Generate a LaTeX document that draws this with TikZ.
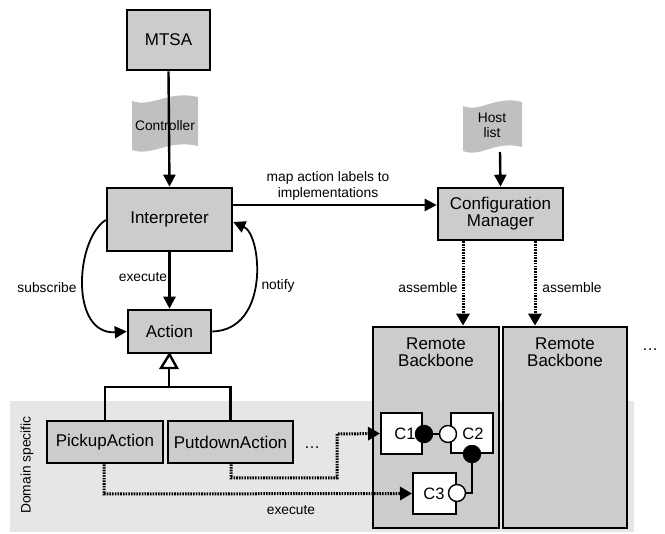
\documentclass[tikz,border=0pt]{standalone}
\usepackage{fontspec}
\setmainfont{Liberation Sans}
\usetikzlibrary{arrows.meta}
\definecolor{boxgray}{HTML}{CCCCCC}
\definecolor{docgray}{HTML}{C0C0C0}
\definecolor{bggray}{HTML}{E6E6E6}
\tikzset{
  blk/.style={draw=black, line width=2.6pt, fill=boxgray, inner sep=0pt, font=\fontsize{17}{19}\selectfont, align=center},
  comp/.style={draw=black, line width=2pt, fill=white, inner sep=0pt},
  lbl/.style={font=\fontsize{13.8}{16}\selectfont, align=center, inner sep=0pt},
  arr/.style={line width=2.4pt, -{Triangle[length=12pt,width=12pt]}},
  curvarr/.style={line width=1.8pt, -{Triangle[length=12pt,width=12pt]}},
  dotarr/.style={line width=3pt, dash pattern=on 1.6pt off 1.1pt, -{Triangle[length=12pt,width=13pt]}},
  inh/.style={line width=2.4pt},
  ball/.style={circle, draw=black, line width=1.4pt, fill=black, minimum size=17pt, inner sep=0pt},
  sock/.style={circle, draw=black, line width=1.4pt, fill=white, minimum size=17pt, inner sep=0pt},
  wire/.style={line width=1.4pt}
}
\begin{document}
\begin{tikzpicture}[x=1pt,y=-1pt]
\useasboundingbox (0,0) rectangle (665,534);
% domain specific background
\fill[bggray] (10,401) rectangle (634,532);
\node[lbl, rotate=90] (dom) at (27,465) {Domain specific};

% main boxes
\node[blk, minimum width=83pt, minimum height=60pt] (mtsa) at (168.5,40) {MTSA};
\node[blk, minimum width=125pt, minimum height=63pt] (interp) at (169.5,219.5) {Interpreter};
\node[blk, minimum width=83pt, minimum height=43pt] (action) at (169.5,331.5) {Action};
\node[blk, minimum width=125pt, minimum height=52pt] (cm) at (500.5,214) {Configuration\\[-2pt]Manager};
\node[blk, minimum width=116pt, minimum height=42pt] (pick) at (105,442) {PickupAction};
\node[blk, minimum width=125pt, minimum height=42pt] (put) at (230.5,442) {PutdownAction};
\node[blk, minimum width=126pt, minimum height=201pt] (rb1) at (436,427.5) {};
\node[blk, minimum width=124pt, minimum height=201pt] (rb2) at (565,427.5) {};
\node[font=\fontsize{17}{19}\selectfont, align=center] (rb1t) at (436,352) {Remote\\[-2pt]Backbone};
\node[font=\fontsize{17}{19}\selectfont, align=center] (rb2t) at (565,352) {Remote\\[-2pt]Backbone};
\node[font=\fontsize{16}{19}\selectfont] (dots1) at (650,350) {\dots};
\node[font=\fontsize{16}{19}\selectfont] (dots2) at (312,448) {\dots};

% documents
\fill[docgray] (132,101) .. controls (152,108) and (168,90) .. (198,97)
  -- (198,146) .. controls (168,139) and (152,157) .. (132,150) -- cycle;
\node[lbl] (ctrl) at (165,126) {Controller};
\fill[docgray] (463,106) .. controls (481,113) and (495,95) .. (522,102)
  -- (522,147) .. controls (495,140) and (481,158) .. (463,151) -- cycle;
\node[lbl, align=center] (host) at (492,125) {Host\\[-1pt]list};

% components
\node[comp, minimum width=41pt, minimum height=41pt] (c1) at (401.5,433.5) {};
\node[comp, minimum width=42pt, minimum height=40pt] (c2) at (472,433) {};
\node[comp, minimum width=43pt, minimum height=41pt] (c3) at (434.5,493.5) {};
\node[font=\fontsize{16.5}{19}\selectfont] (c1t) at (405,434) {C1};
\node[font=\fontsize{16.5}{19}\selectfont] (c2t) at (473,434) {C2};
\node[font=\fontsize{16.5}{19}\selectfont] (c3t) at (434,494) {C3};
\coordinate (bend) at (472,493);
\node[ball] (b1) at (424,434) {};
\node[sock] (s2) at (448,434) {};
\node[ball] (b2) at (472,454) {};
\node[sock] (s3) at (457,493) {};
\draw[wire] (b1) -- (s2);
\draw[wire] (b2) -- (bend) -- (s3);

% arrows
\coordinate (hostb) at (500,152);
\draw[arr] (mtsa.south) -- (interp.north);
\draw[arr] (interp.south) -- (action.north);
\draw[arr] (interp.east |- 0,205) -- (cm.west |- 0,205);
\draw[arr] (hostb) -- (cm.north);
\node[lbl] (maplbl) at (328,186) {map action labels to\\implementations};
\node[lbl] (exec1) at (143,277) {execute};
\node[lbl] (subs) at (47,288) {subscribe};
\node[lbl] (notif) at (278,286) {notify};
\draw[curvarr] (interp.west |- 0,220) .. controls (75,240) and (70,335) .. (action.west);
\draw[curvarr] (action.east) .. controls (270,330) and (262,235) .. (interp.east |- 0,222);

% inheritance
\coordinate (tbase) at (169,368);
\coordinate (hjoin) at (169,387);
\draw[inh, fill=white] (action.south) -- (161,368) -- (177,368) -- cycle;
\draw[inh] (tbase) -- (hjoin);
\draw[inh] (pick.north) |- (hjoin) -| (put.north);

% assemble
\draw[dotarr] (cm.south -| 463,0) -- (rb1.north -| 463,0);
\draw[dotarr] (cm.south -| 535,0) -- (rb2.north -| 535,0);
\node[lbl] (as1) at (428,288) {assemble};
\node[lbl] (as2) at (572,288) {assemble};

% execute dotted
\coordinate (p1) at (231,478);
\coordinate (p2) at (337,478);
\coordinate (p3) at (337,434);
\draw[dotarr] (put.south -| 231,0) -- (p1) -- (p2) -- (p3) -- (c1.west);
\coordinate (q1) at (104,494);
\draw[dotarr] (pick.south -| 104,0) -- (q1) -- (c3.west);
\node[lbl] (exec2) at (291,510) {execute};
\end{tikzpicture}
\end{document}
